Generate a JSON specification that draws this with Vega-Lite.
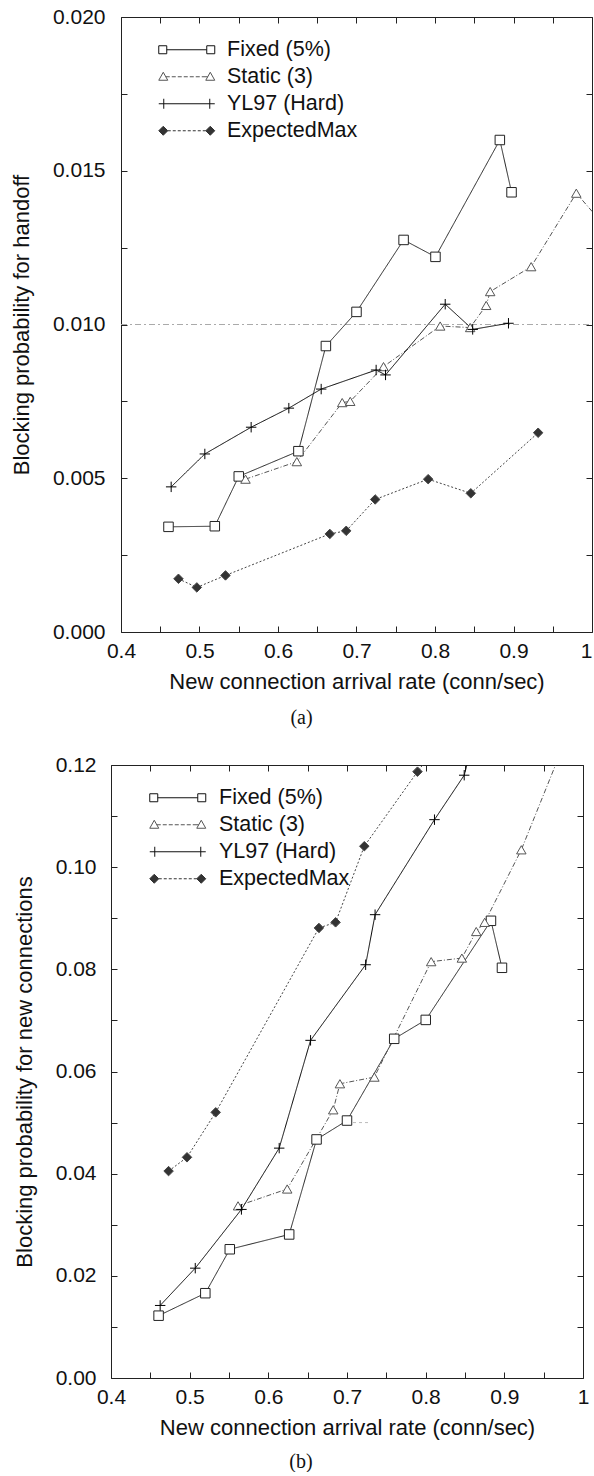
{
  "$schema": "https://vega.github.io/schema/vega-lite/v6.json",
  "background": "white",
  "padding": {"left": 10, "top": 6, "right": 0, "bottom": 0},
  "config": {
    "view": {"stroke": null},
    "font": "Liberation Sans",
    "axis": {"grid": false, "domainColor": "#222", "domainWidth": 1, "tickColor": "#222", "tickWidth": 1, "labelFont": "Liberation Sans", "labelFontSize": 21, "labelColor": "#111", "titleFont": "Liberation Sans", "titleFontSize": 22, "titleFontWeight": "normal", "titleColor": "#111", "labelOverlap": false, "labelFlush": false},
    "title": {"font": "Liberation Serif", "fontSize": 20, "fontWeight": "normal", "color": "#111"}
  },
  "datasets": {
    "refA": [{"p": 0.010, "from": 0.4, "to": 1.0}],
    "refB": [{"p": 0.05, "from": 0.70, "to": 0.73}],
    "handoff": [
      {"series": "Fixed (5%)", "rate": 0.4605, "p": 0.00342},
      {"series": "Fixed (5%)", "rate": 0.5195, "p": 0.00344},
      {"series": "Fixed (5%)", "rate": 0.550, "p": 0.00506},
      {"series": "Fixed (5%)", "rate": 0.626, "p": 0.00588},
      {"series": "Fixed (5%)", "rate": 0.661, "p": 0.0093},
      {"series": "Fixed (5%)", "rate": 0.700, "p": 0.01041},
      {"series": "Fixed (5%)", "rate": 0.760, "p": 0.01275},
      {"series": "Fixed (5%)", "rate": 0.8006, "p": 0.0122},
      {"series": "Fixed (5%)", "rate": 0.8826, "p": 0.0160},
      {"series": "Fixed (5%)", "rate": 0.8975, "p": 0.0143},
      {"series": "Static (3)", "rate": 0.5586, "p": 0.00497},
      {"series": "Static (3)", "rate": 0.624, "p": 0.00554},
      {"series": "Static (3)", "rate": 0.6818, "p": 0.00746},
      {"series": "Static (3)", "rate": 0.692, "p": 0.0075},
      {"series": "Static (3)", "rate": 0.7344, "p": 0.00863},
      {"series": "Static (3)", "rate": 0.8066, "p": 0.00995},
      {"series": "Static (3)", "rate": 0.8448, "p": 0.0099},
      {"series": "Static (3)", "rate": 0.8652, "p": 0.01062},
      {"series": "Static (3)", "rate": 0.8703, "p": 0.01107},
      {"series": "Static (3)", "rate": 0.9225, "p": 0.01188},
      {"series": "Static (3)", "rate": 0.98, "p": 0.01427},
      {"series": "Static (3)", "rate": 1.03, "p": 0.0128},
      {"series": "YL97 (Hard)", "rate": 0.4639, "p": 0.00472},
      {"series": "YL97 (Hard)", "rate": 0.5068, "p": 0.00579},
      {"series": "YL97 (Hard)", "rate": 0.5658, "p": 0.00666},
      {"series": "YL97 (Hard)", "rate": 0.6138, "p": 0.00728},
      {"series": "YL97 (Hard)", "rate": 0.655, "p": 0.0079},
      {"series": "YL97 (Hard)", "rate": 0.725, "p": 0.00852},
      {"series": "YL97 (Hard)", "rate": 0.737, "p": 0.00836},
      {"series": "YL97 (Hard)", "rate": 0.813, "p": 0.01066},
      {"series": "YL97 (Hard)", "rate": 0.848, "p": 0.00984},
      {"series": "YL97 (Hard)", "rate": 0.8936, "p": 0.01004},
      {"series": "ExpectedMax", "rate": 0.4732, "p": 0.00173},
      {"series": "ExpectedMax", "rate": 0.4966, "p": 0.00145},
      {"series": "ExpectedMax", "rate": 0.5331, "p": 0.00184},
      {"series": "ExpectedMax", "rate": 0.666, "p": 0.00319},
      {"series": "ExpectedMax", "rate": 0.6869, "p": 0.00329},
      {"series": "ExpectedMax", "rate": 0.7238, "p": 0.00431},
      {"series": "ExpectedMax", "rate": 0.7913, "p": 0.00497},
      {"series": "ExpectedMax", "rate": 0.8456, "p": 0.00451},
      {"series": "ExpectedMax", "rate": 0.9314, "p": 0.00648}
    ],
    "newconn": [
      {"series": "Fixed (5%)", "rate": 0.4605, "p": 0.0122},
      {"series": "Fixed (5%)", "rate": 0.5199, "p": 0.0166},
      {"series": "Fixed (5%)", "rate": 0.551, "p": 0.0252},
      {"series": "Fixed (5%)", "rate": 0.6265, "p": 0.0281},
      {"series": "Fixed (5%)", "rate": 0.6613, "p": 0.0467},
      {"series": "Fixed (5%)", "rate": 0.700, "p": 0.0504},
      {"series": "Fixed (5%)", "rate": 0.760, "p": 0.0664},
      {"series": "Fixed (5%)", "rate": 0.8001, "p": 0.0701},
      {"series": "Fixed (5%)", "rate": 0.883, "p": 0.0895},
      {"series": "Fixed (5%)", "rate": 0.897, "p": 0.0803},
      {"series": "Static (3)", "rate": 0.5615, "p": 0.0337},
      {"series": "Static (3)", "rate": 0.624, "p": 0.037},
      {"series": "Static (3)", "rate": 0.6825, "p": 0.0525},
      {"series": "Static (3)", "rate": 0.691, "p": 0.0576},
      {"series": "Static (3)", "rate": 0.7348, "p": 0.0589},
      {"series": "Static (3)", "rate": 0.807, "p": 0.0815},
      {"series": "Static (3)", "rate": 0.846, "p": 0.0822},
      {"series": "Static (3)", "rate": 0.8643, "p": 0.0874},
      {"series": "Static (3)", "rate": 0.875, "p": 0.0892},
      {"series": "Static (3)", "rate": 0.9216, "p": 0.1034},
      {"series": "Static (3)", "rate": 0.98, "p": 0.1257},
      {"series": "YL97 (Hard)", "rate": 0.4625, "p": 0.0142},
      {"series": "YL97 (Hard)", "rate": 0.5071, "p": 0.0215},
      {"series": "YL97 (Hard)", "rate": 0.5658, "p": 0.033},
      {"series": "YL97 (Hard)", "rate": 0.6138, "p": 0.045},
      {"series": "YL97 (Hard)", "rate": 0.6537, "p": 0.0661},
      {"series": "YL97 (Hard)", "rate": 0.7237, "p": 0.0809},
      {"series": "YL97 (Hard)", "rate": 0.7357, "p": 0.0907},
      {"series": "YL97 (Hard)", "rate": 0.8112, "p": 0.1093},
      {"series": "YL97 (Hard)", "rate": 0.849, "p": 0.118},
      {"series": "YL97 (Hard)", "rate": 0.8936, "p": 0.144},
      {"series": "ExpectedMax", "rate": 0.4732, "p": 0.0405},
      {"series": "ExpectedMax", "rate": 0.4966, "p": 0.0432},
      {"series": "ExpectedMax", "rate": 0.5331, "p": 0.052},
      {"series": "ExpectedMax", "rate": 0.6643, "p": 0.0881},
      {"series": "ExpectedMax", "rate": 0.6855, "p": 0.0892},
      {"series": "ExpectedMax", "rate": 0.722, "p": 0.1041},
      {"series": "ExpectedMax", "rate": 0.7896, "p": 0.1187},
      {"series": "ExpectedMax", "rate": 0.846, "p": 0.130}
    ]
  },
  "columns": 1,
  "spacing": 26,
  "resolve": {"scale": {"shape": "independent", "fill": "independent", "stroke": "independent"}, "legend": {"shape": "independent", "fill": "independent", "stroke": "independent"}},
  "concat": [
    {
      "width": 481,
      "height": 615,
      "title": {"text": "(a)", "orient": "bottom", "anchor": "middle", "frame": "bounds", "offset": 16},
      "layer": [
        {
          "data": {"name": "refA"},
          "mark": {"type": "rule", "color": "#aaa", "strokeDash": [6, 3, 2, 3], "strokeWidth": 1},
          "encoding": {
            "x": {"field": "from", "type": "quantitative", "scale": {"domain": [0.4, 1], "range": [10, 481], "nice": false, "zero": false}, "axis": null},
            "x2": {"field": "to"},
            "y": {"field": "p", "type": "quantitative", "scale": {"domain": [0, 0.02], "nice": false, "zero": false}, "axis": null}
          }
        },
        {
          "data": {"name": "handoff"},
          "mark": {"type": "line", "clip": true, "strokeWidth": 1},
          "encoding": {
            "x": {"field": "rate", "type": "quantitative", "scale": {"domain": [0.4, 1], "range": [10, 481], "nice": false, "zero": false},
              "axis": {"orient": "bottom", "title": "New connection arrival rate (conn/sec)", "values": [0.4, 0.45, 0.5, 0.55, 0.6, 0.65, 0.7, 0.75, 0.8, 0.85, 0.9, 0.95, 1.0], "format": "~g", "labelExpr": "round(datum.value*100) % 10 == 0 ? datum.label : ''", "labelAlign": {"condition": {"test": "datum.value >= 0.99", "value": "right"}, "value": "center"}, "tickSize": -6, "labelPadding": 14, "titlePadding": 10}},
            "y": {"field": "p", "type": "quantitative", "scale": {"domain": [0, 0.02], "nice": false, "zero": false},
              "axis": {"orient": "left", "offset": -10, "title": "Blocking probability for handoff", "values": [0, 0.0025, 0.005, 0.0075, 0.01, 0.0125, 0.015, 0.0175, 0.02], "format": ".3f", "labelExpr": "round(datum.value*10000) % 50 == 0 ? datum.label : ''", "tickSize": -6, "labelPadding": 22, "titlePadding": 19}},
            "detail": {"field": "series", "type": "nominal"},
            "stroke": {"condition": [{"test": "datum.series === 'Static (3)'", "value": "#555"}, {"test": "datum.series === 'ExpectedMax'", "value": "#444"}, {"test": "datum.series === 'YL97 (Hard)'", "value": "#000"}], "value": "#222"},
            "strokeDash": {"condition": [{"test": "datum.series === 'Static (3)'", "value": [5, 2, 1, 2]}, {"test": "datum.series === 'ExpectedMax'", "value": [2, 2]}], "value": [1, 0]}
          }
        },
        {
          "data": {"name": "handoff"},
          "mark": {"type": "point", "clip": true, "strokeWidth": 1, "size": 90, "opacity": 1},
          "encoding": {
            "x": {"field": "rate", "type": "quantitative", "scale": {"domain": [0.4, 1], "range": [10, 481], "nice": false, "zero": false},
              "axis": {"orient": "top", "labels": false, "title": null, "values": [0.4, 0.45, 0.5, 0.55, 0.6, 0.65, 0.7, 0.75, 0.8, 0.85, 0.9, 0.95, 1.0], "tickSize": -6}},
            "y": {"field": "p", "type": "quantitative", "scale": {"domain": [0, 0.02], "nice": false, "zero": false},
              "axis": {"orient": "right", "labels": false, "title": null, "values": [0, 0.0025, 0.005, 0.0075, 0.01, 0.0125, 0.015, 0.0175, 0.02], "tickSize": -6}},
            "shape": {"condition": [{"test": "datum.series === 'Fixed (5%)'", "value": "square"}, {"test": "datum.series === 'Static (3)'", "value": "triangle-up"}, {"test": "datum.series === 'YL97 (Hard)'", "value": "M-1.1,0H1.1M0,-1.1V1.1"}], "value": "diamond"},
            "fill": {"condition": [{"test": "datum.series === 'ExpectedMax'", "value": "#333"}, {"test": "datum.series === 'YL97 (Hard)'", "value": "transparent"}], "value": "white"},
            "stroke": {"condition": [{"test": "datum.series === 'Static (3)'", "value": "#555"}, {"test": "datum.series === 'ExpectedMax'", "value": "#444"}, {"test": "datum.series === 'YL97 (Hard)'", "value": "#000"}], "value": "#222"}
          }
        },
        {
          "data": {"name": "handoff"},
          "mark": {"type": "point", "clip": true, "strokeWidth": 1, "size": 4, "opacity": 0},
          "encoding": {
            "x": {"field": "rate", "type": "quantitative", "scale": {"domain": [0.4, 1], "range": [10, 481], "nice": false, "zero": false}, "axis": null},
            "y": {"field": "p", "type": "quantitative", "scale": {"domain": [0, 0.02], "nice": false, "zero": false}, "axis": null},
            "shape": {"field": "series", "type": "nominal", "scale": {"domain": ["Fixed (5%)", "Static (3)", "YL97 (Hard)", "ExpectedMax"], "range": ["M0,-4H8V4H0Z M48,-4H56V4H48Z M8,0H48", "M4.5,-4.5L9,3.5L0,3.5Z M51.5,-4.5L56,3.5L47,3.5Z M7,0h4m2,0h4m2,0h4m2,0h4m2,0h4m2,0h4m2,0h6", "M0,0H56M5,-5V5M51,-5V5", "M0,0L4.5,-4.5L9,0L4.5,4.5Z M47,0L51.5,-4.5L56,0L51.5,4.5Z M9,0h3m2,0h3m2,0h3m2,0h3m2,0h3m2,0h3m2,0h3m2,0h3"]},
              "legend": {"orient": "none", "legendX": 37, "legendY": 22, "title": null, "symbolSize": 4, "symbolOpacity": 1, "symbolStrokeWidth": 1, "labelOffset": 57.5, "labelFontSize": 21.5, "labelFont": "Liberation Sans", "labelColor": "#111", "rowPadding": 4, "padding": 0, "labelLimit": 400}},
            "fill": {"field": "series", "type": "nominal", "scale": {"domain": ["Fixed (5%)", "Static (3)", "YL97 (Hard)", "ExpectedMax"], "range": ["white", "white", "transparent", "#333"]}},
            "stroke": {"field": "series", "type": "nominal", "scale": {"domain": ["Fixed (5%)", "Static (3)", "YL97 (Hard)", "ExpectedMax"], "range": ["#111", "#555", "#111", "#333"]}}
          }
        }
      ],
      "resolve": {"axis": {"x": "independent", "y": "independent"}}
    },
    {
      "width": 472,
      "height": 613,
      "title": {"text": "(b)", "orient": "bottom", "anchor": "middle", "frame": "bounds", "offset": 14},
      "layer": [
        {
          "data": {"name": "refB"},
          "mark": {"type": "rule", "color": "#bbb", "strokeDash": [3, 3], "strokeWidth": 1},
          "encoding": {
            "x": {"field": "from", "type": "quantitative", "scale": {"domain": [0.4, 1], "nice": false, "zero": false}, "axis": null},
            "x2": {"field": "to"},
            "y": {"field": "p", "type": "quantitative", "scale": {"domain": [0, 0.12], "nice": false, "zero": false}, "axis": null}
          }
        },
        {
          "data": {"name": "newconn"},
          "mark": {"type": "line", "clip": true, "strokeWidth": 1},
          "encoding": {
            "x": {"field": "rate", "type": "quantitative", "scale": {"domain": [0.4, 1], "nice": false, "zero": false},
              "axis": {"orient": "bottom", "title": "New connection arrival rate (conn/sec)", "values": [0.4, 0.45, 0.5, 0.55, 0.6, 0.65, 0.7, 0.75, 0.8, 0.85, 0.9, 0.95, 1.0], "format": "~g", "labelExpr": "round(datum.value*100) % 10 == 0 ? datum.label : ''", "tickSize": -6, "labelPadding": 14, "titlePadding": 10}},
            "y": {"field": "p", "type": "quantitative", "scale": {"domain": [0, 0.12], "nice": false, "zero": false},
              "axis": {"orient": "left", "title": "Blocking probability for new connections", "values": [0, 0.01, 0.02, 0.03, 0.04, 0.05, 0.06, 0.07, 0.08, 0.09, 0.1, 0.11, 0.12], "format": ".2f", "labelExpr": "round(datum.value*100) % 2 == 0 ? datum.label : ''", "tickSize": -6, "labelPadding": 21, "titlePadding": 19}},
            "detail": {"field": "series", "type": "nominal"},
            "stroke": {"condition": [{"test": "datum.series === 'Static (3)'", "value": "#555"}, {"test": "datum.series === 'ExpectedMax'", "value": "#444"}, {"test": "datum.series === 'YL97 (Hard)'", "value": "#000"}], "value": "#222"},
            "strokeDash": {"condition": [{"test": "datum.series === 'Static (3)'", "value": [5, 2, 1, 2]}, {"test": "datum.series === 'ExpectedMax'", "value": [2, 2]}], "value": [1, 0]}
          }
        },
        {
          "data": {"name": "newconn"},
          "mark": {"type": "point", "clip": true, "strokeWidth": 1, "size": 90, "opacity": 1},
          "encoding": {
            "x": {"field": "rate", "type": "quantitative", "scale": {"domain": [0.4, 1], "nice": false, "zero": false},
              "axis": {"orient": "top", "labels": false, "title": null, "values": [0.4, 0.45, 0.5, 0.55, 0.6, 0.65, 0.7, 0.75, 0.8, 0.85, 0.9, 0.95, 1.0], "tickSize": -6}},
            "y": {"field": "p", "type": "quantitative", "scale": {"domain": [0, 0.12], "nice": false, "zero": false},
              "axis": {"orient": "right", "labels": false, "title": null, "values": [0, 0.01, 0.02, 0.03, 0.04, 0.05, 0.06, 0.07, 0.08, 0.09, 0.1, 0.11, 0.12], "tickSize": -6}},
            "shape": {"condition": [{"test": "datum.series === 'Fixed (5%)'", "value": "square"}, {"test": "datum.series === 'Static (3)'", "value": "triangle-up"}, {"test": "datum.series === 'YL97 (Hard)'", "value": "M-1.1,0H1.1M0,-1.1V1.1"}], "value": "diamond"},
            "fill": {"condition": [{"test": "datum.series === 'ExpectedMax'", "value": "#333"}, {"test": "datum.series === 'YL97 (Hard)'", "value": "transparent"}], "value": "white"},
            "stroke": {"condition": [{"test": "datum.series === 'Static (3)'", "value": "#555"}, {"test": "datum.series === 'ExpectedMax'", "value": "#444"}, {"test": "datum.series === 'YL97 (Hard)'", "value": "#000"}], "value": "#222"}
          }
        },
        {
          "data": {"name": "newconn"},
          "mark": {"type": "point", "clip": true, "strokeWidth": 1, "size": 4, "opacity": 0},
          "encoding": {
            "x": {"field": "rate", "type": "quantitative", "scale": {"domain": [0.4, 1], "nice": false, "zero": false}, "axis": null},
            "y": {"field": "p", "type": "quantitative", "scale": {"domain": [0, 0.12], "nice": false, "zero": false}, "axis": null},
            "shape": {"field": "series", "type": "nominal", "scale": {"domain": ["Fixed (5%)", "Static (3)", "YL97 (Hard)", "ExpectedMax"], "range": ["M0,-4H8V4H0Z M48,-4H56V4H48Z M8,0H48", "M4.5,-4.5L9,3.5L0,3.5Z M51.5,-4.5L56,3.5L47,3.5Z M7,0h4m2,0h4m2,0h4m2,0h4m2,0h4m2,0h4m2,0h6", "M0,0H56M5,-5V5M51,-5V5", "M0,0L4.5,-4.5L9,0L4.5,4.5Z M47,0L51.5,-4.5L56,0L51.5,4.5Z M9,0h3m2,0h3m2,0h3m2,0h3m2,0h3m2,0h3m2,0h3m2,0h3"]},
              "legend": {"orient": "none", "legendX": 28, "legendY": 22, "title": null, "symbolSize": 4, "symbolOpacity": 1, "symbolStrokeWidth": 1, "labelOffset": 58.5, "labelFontSize": 21.5, "labelFont": "Liberation Sans", "labelColor": "#111", "rowPadding": 4, "padding": 0, "labelLimit": 400}},
            "fill": {"field": "series", "type": "nominal", "scale": {"domain": ["Fixed (5%)", "Static (3)", "YL97 (Hard)", "ExpectedMax"], "range": ["white", "white", "transparent", "#333"]}},
            "stroke": {"field": "series", "type": "nominal", "scale": {"domain": ["Fixed (5%)", "Static (3)", "YL97 (Hard)", "ExpectedMax"], "range": ["#111", "#555", "#111", "#333"]}}
          }
        }
      ],
      "resolve": {"axis": {"x": "independent", "y": "independent"}}
    }
  ]
}
